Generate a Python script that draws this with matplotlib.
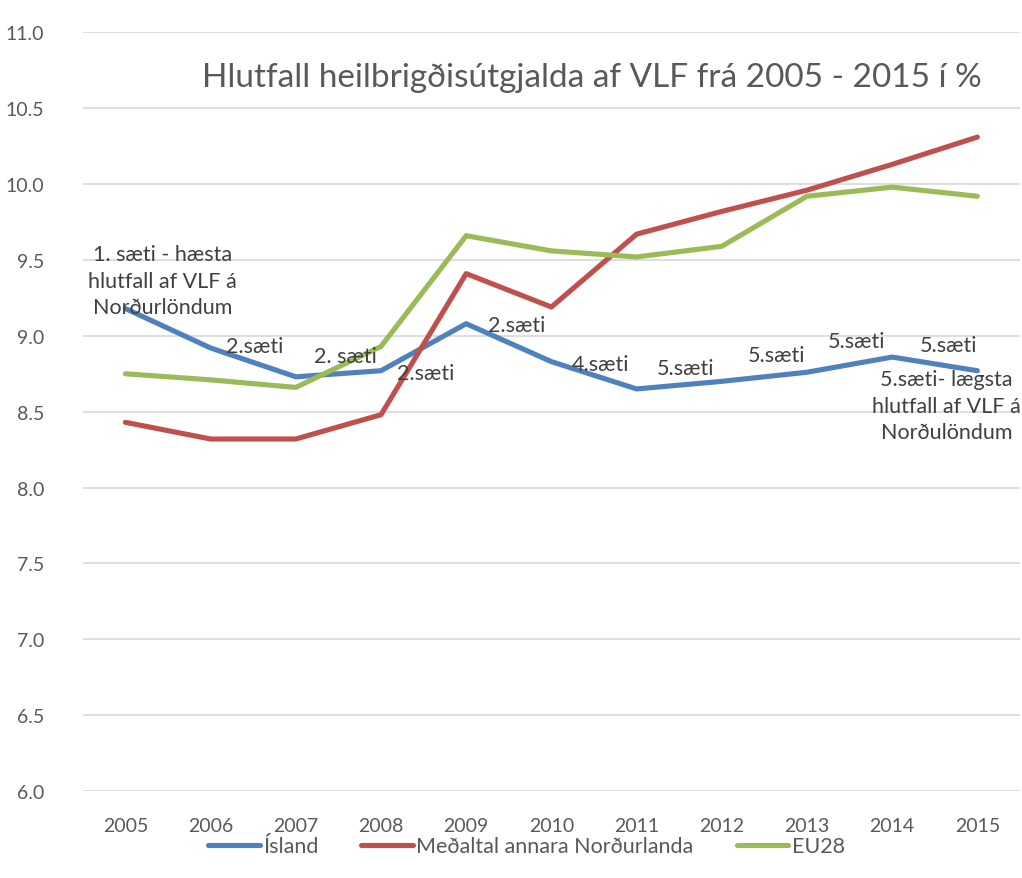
import matplotlib
matplotlib.use("Agg")
import matplotlib.pyplot as plt

years = ["2005", "2006", "2007", "2008", "2009", "2010", "2011", "2012", "2013", "2014", "2015"]
island = [9.18, 8.92, 8.73, 8.77, 9.08, 8.83, 8.65, 8.70, 8.76, 8.86, 8.77]
nordic = [8.43, 8.32, 8.32, 8.48, 9.41, 9.19, 9.67, 9.82, 9.96, 10.13, 10.31]
eu28 = [8.75, 8.71, 8.66, 8.93, 9.66, 9.56, 9.52, 9.59, 9.92, 9.98, 9.92]
series_names = ["Ísland", "Meðaltal annara Norðurlanda", "EU28"]
rank_labels = [
    "1. sæti - hæsta\nhlutfall af VLF á\nNorðurlöndum",
    "2.sæti", "2. sæti", "2.sæti", "2.sæti", "4.sæti", "5.sæti",
    "5.sæti", "5.sæti", "5.sæti",
    "5.sæti- lægsta\nhlutfall af VLF á\nNorðulöndum",
]
title = "Hlutfall heilbrigðisútgjalda af VLF frá 2005 - 2015 í %"
yticks = [6.0, 6.5, 7.0, 7.5, 8.0, 8.5, 9.0, 9.5, 10.0, 10.5, 11.0]

# label offsets (pixels) relative to each Ísland point
label_offsets = [(37, 28), (44, 2), (50, 21), (45, -2), (51, -1), (49, -2),
                 (49, 21), (55, 26), (50, 31), (56, 12), (-31, -35)]

plt.rcParams['font.family'] = ['Lato', 'DejaVu Sans']
fig = plt.figure(figsize=(10.22, 8.79), dpi=100)
ax = fig.add_axes([0.081, 0.099, 0.917, 0.863])

colors = ["#4F81BD", "#C0504D", "#9BBB59"]
x = list(range(len(years)))
for vals, name, c in zip([island, nordic, eu28], series_names, colors):
    ax.plot(x, vals, color=c, lw=3.7, label=name, solid_capstyle='round',
            solid_joinstyle='round')

for i, (lab, off) in enumerate(zip(rank_labels, label_offsets)):
    ax.annotate(lab, xy=(i, island[i]), xytext=(off[0] * 0.72, off[1] * 0.72),
                textcoords='offset points', ha='center', va='center',
                fontsize=15.5, color='#404040', linespacing=1.4)

ax.set_xlim(-0.5, len(years) - 0.5)
ax.set_ylim(6.0, 11.0)
ax.set_yticks(yticks)
ax.set_yticklabels([f"{v:.1f}" for v in yticks])
ax.set_xticks(x)
ax.set_xticklabels(years)
ax.tick_params(axis='both', length=0, labelsize=14, colors='#595959')
ax.tick_params(axis='x', pad=19)
ax.tick_params(axis='y', pad=28)
ax.grid(axis='y', color='#D9D9D9', lw=1.2)
ax.set_axisbelow(True)
for s in ax.spines.values():
    s.set_visible(False)

ax.text(0.543, 0.941, title, transform=ax.transAxes, ha='center', va='center',
        fontsize=24, color='#595959')

leg = fig.legend(loc='center', bbox_to_anchor=(0.515, 0.036), ncol=3, frameon=False,
                 fontsize=15.5, handlelength=2.4, handletextpad=0.15, columnspacing=2.0)
for t in leg.get_texts():
    t.set_color('#595959')

fig.savefig("out.png", dpi=100)
